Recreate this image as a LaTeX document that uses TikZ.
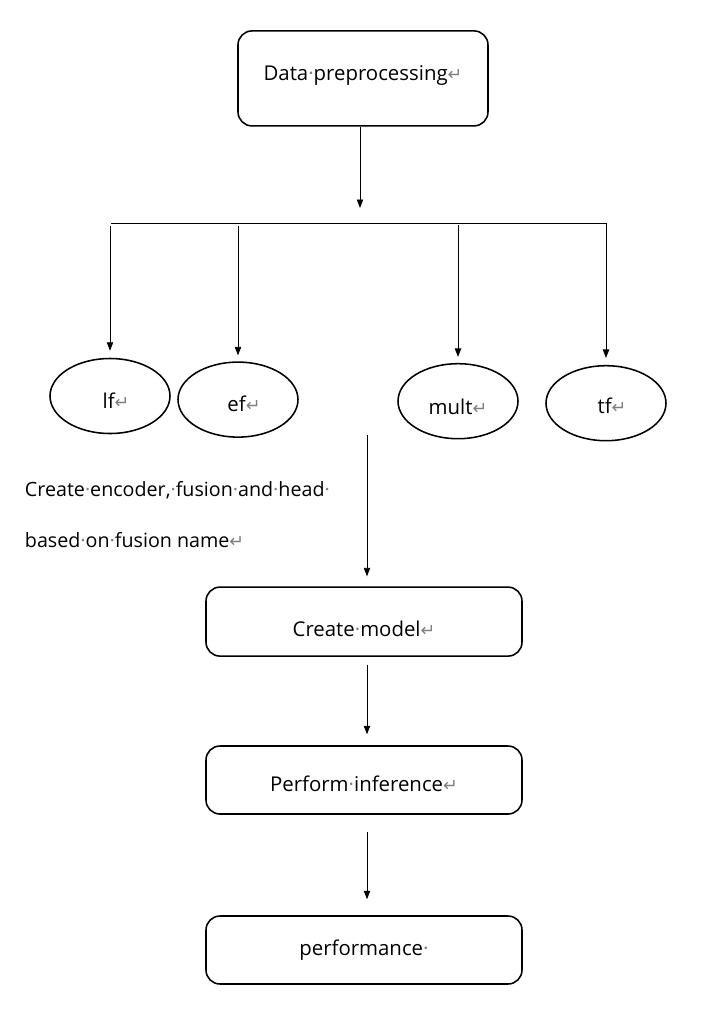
\documentclass[tikz,border=0pt]{standalone}
\usepackage{fontspec}
\setmainfont{Open Sans}
\newfontfamily\markfont{DejaVu Sans}
\usepackage{xcolor}
\usetikzlibrary{positioning, shapes, arrows.meta, calc}

% Word formatting marks
\newcommand{\spc}{{\color{gray}\textperiodcentered}}
\newcommand{\ret}{{\color{gray}\markfont\fontsize{12.5}{14}\selectfont ↵}}
% baseline below the node centre
\newcommand{\drop}[2]{\raisebox{-#1}[0pt][0pt]{#2}}

\begin{document}
\begin{tikzpicture}[
    procbox/.style={draw, rectangle, rounded corners=0.35cm, line width=1.1pt, font=\fontsize{14.5}{17}\selectfont},
    fusionoval/.style={draw, ellipse, line width=1.1pt, minimum width=3cm, minimum height=1.875cm, font=\fontsize{14.5}{17}\selectfont},
    flow/.style={-{Triangle[width=4.5pt,length=6pt]}, line width=0.6pt}
  ]
      \useasboundingbox (0, 0) rectangle (17.7, -25.8);

      % Top box
      \node[procbox, minimum width=6.25cm, minimum height=2.375cm] (prep) at (9.075, -1.96) {\drop{0.05cm}{Data\spc preprocessing\ret}};

      % Bus line
      \coordinate (busL) at (2.775, -5.575);
      \coordinate (busR) at (15.175, -5.575);
      \coordinate (busdrop) at (9.0, -5.575);
      \draw[line width=0.6pt] (busL) -- (busR);
      \draw[flow, shorten >=0.375cm] (prep.south -| busdrop) -- (busdrop);

      % Fusion methods
      \node[fusionoval] (lf) at (2.75, -9.9) {\hspace{0.3cm}\drop{0.3cm}{lf\ret}};
      \node[fusionoval] (ef) at (5.95, -9.99) {\hspace{0.3cm}\drop{0.29cm}{ef\ret}};
      \node[fusionoval] (mult) at (11.45, -10.03) {\drop{0.32cm}{mult\ret}};
      \node[fusionoval] (tf) at (15.15, -10.08) {\hspace{0.3cm}\drop{0.25cm}{tf\ret}};

      \draw[flow, shorten <=0.075cm, shorten >=0.175cm] (lf.north |- busL) -- (lf.north);
      \draw[flow, shorten <=0.075cm, shorten >=0.15cm] (ef.north |- busL) -- (ef.north);
      \draw[flow, shorten <=0.05cm, shorten >=0.15cm] (mult.north |- busL) -- (mult.north);
      \draw[flow, shorten >=0.175cm] (tf.north |- busR) -- (tf.north);

      % Description
      \node[anchor=west, font=\fontsize{14}{17}\selectfont] (desc1) at (0.5, -12.25) {Create\spc encoder,\spc fusion\spc and\spc head\spc};
      \node[anchor=west, font=\fontsize{14}{17}\selectfont] (desc2) at (0.5, -13.5) {based\spc on\spc fusion name\ret};

      % Model pipeline
      \node[procbox, minimum width=7.9cm, minimum height=1.725cm] (model) at (9.1, -15.54) {\drop{0.36cm}{Create\spc model\ret}};
      \node[procbox, minimum width=7.9cm, minimum height=1.7cm] (infer) at (9.1, -19.5) {\drop{0.28cm}{Perform\spc inference\ret}};
      \node[procbox, minimum width=7.9cm, minimum height=1.7cm] (perf) at (9.1, -23.75) {\drop{0.13cm}{performance\spc}};

      \coordinate (split) at (9.175, -10.875);
      \draw[flow, shorten >=0.25cm] (split) -- (split |- model.north);
      \draw[flow, shorten <=0.2cm, shorten >=0.275cm] (model.south -| split) -- (infer.north -| split);
      \draw[flow, shorten <=0.425cm, shorten >=0.4cm] (infer.south -| split) -- (perf.north -| split);
    \end{tikzpicture}
\end{document}
